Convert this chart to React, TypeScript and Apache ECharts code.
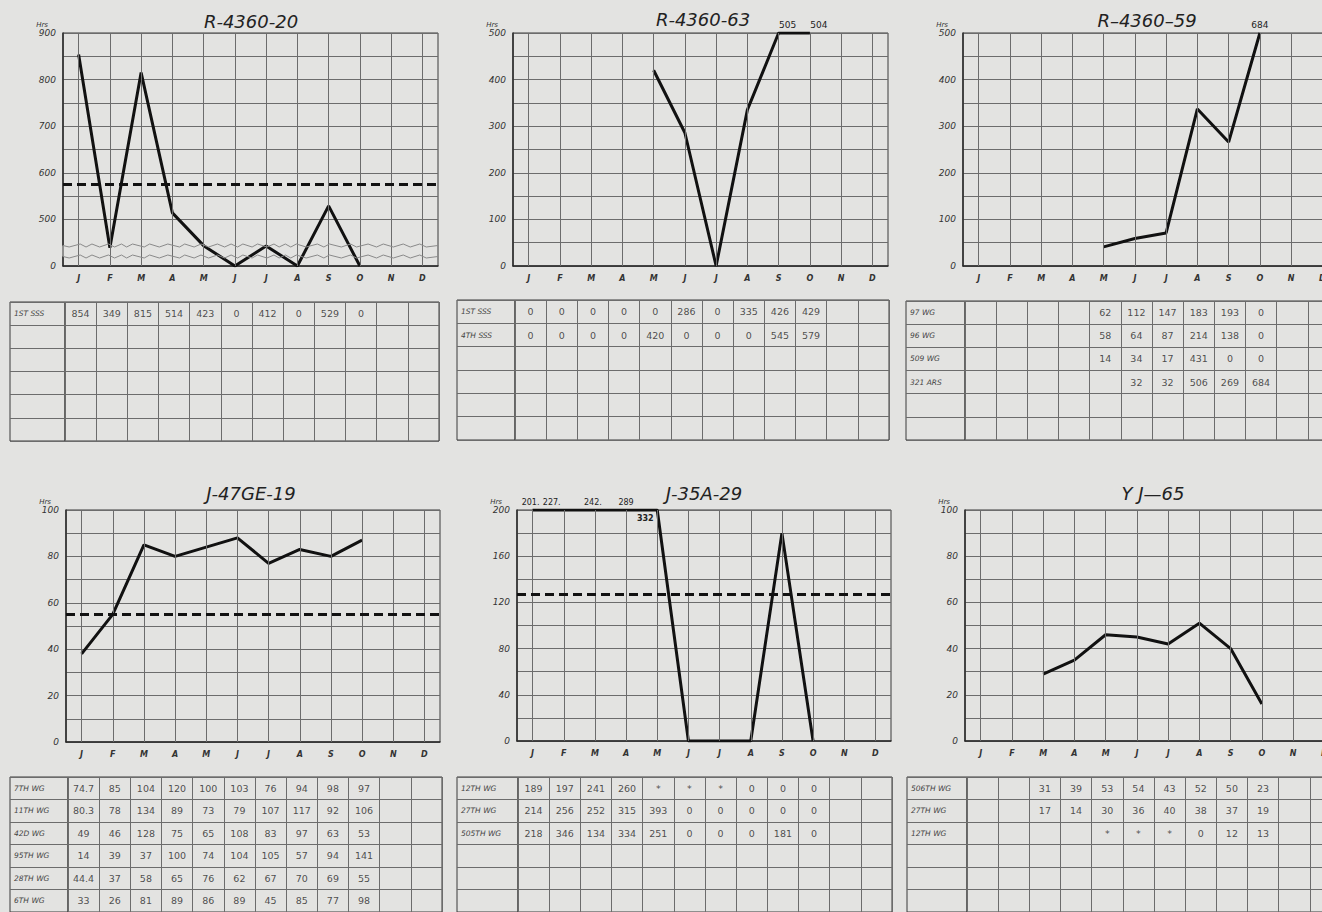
import React, { useEffect, useRef } from 'react';
import * as echarts from 'echarts';

const BG = '#e3e3e1';
const INK = '#111111';
const GRIDC = '#6c6c6c';
const FONT = '"DejaVu Sans", sans-serif';

const MONTHS = ['J', 'F', 'M', 'A', 'M', 'J', 'J', 'A', 'S', 'O', 'N', 'D'];
const TABLE_ROWS = 6;

// ---- chart series (hours per month) ----
const R4360_20 = [854, 349, 815, 514, 423, 0, 412, 0, 529, 0, null, null];
const R4360_20_AVG = 575;
const R4360_63 = [null, null, null, null, 420, 286, 0, 335, 505, 504, null, null];
const R4360_59 = [null, null, null, null, 41, 59, 71, 337, 266, 684, null, null];
const J47GE_19 = [38, 55, 85, 80, 84, 88, 77, 83, 80, 87, null, null];
const J47GE_19_AVG = 55;
const J35A_29 = [201, 227, 242, 289, 332, 0, 0, 0, 180, 0, null, null];
const J35A_29_AVG = 127;
const J35A_29_NOTES = ['201.', '227.', '242.', '289', '332'];
const YJ_65 = [null, null, 29, 35, 46, 45, 42, 51, 40, 16, null, null];

// ---- tables ----
const T1_LABELS = ['1ST SSS'];
const T1_VALUES = [['854', '349', '815', '514', '423', '0', '412', '0', '529', '0']];
const T2_LABELS = ['1ST SSS', '4TH SSS'];
const T2_VALUES = [
  ['0', '0', '0', '0', '0', '286', '0', '335', '426', '429'],
  ['0', '0', '0', '0', '420', '0', '0', '0', '545', '579'],
];
const T3_LABELS = ['97 WG', '96 WG', '509 WG', '321 ARS'];
const T3_VALUES = [
  ['', '', '', '', '62', '112', '147', '183', '193', '0'],
  ['', '', '', '', '58', '64', '87', '214', '138', '0'],
  ['', '', '', '', '14', '34', '17', '431', '0', '0'],
  ['', '', '', '', '', '32', '32', '506', '269', '684'],
];
const T4_LABELS = ['7TH WG', '11TH WG', '42D WG', '95TH WG', '28TH WG', '6TH WG'];
const T4_VALUES = [
  ['74.7', '85', '104', '120', '100', '103', '76', '94', '98', '97'],
  ['80.3', '78', '134', '89', '73', '79', '107', '117', '92', '106'],
  ['49', '46', '128', '75', '65', '108', '83', '97', '63', '53'],
  ['14', '39', '37', '100', '74', '104', '105', '57', '94', '141'],
  ['44.4', '37', '58', '65', '76', '62', '67', '70', '69', '55'],
  ['33', '26', '81', '89', '86', '89', '45', '85', '77', '98'],
];
const T5_LABELS = ['12TH WG', '27TH WG', '505TH WG'];
const T5_VALUES = [
  ['189', '197', '241', '260', '*', '*', '*', '0', '0', '0'],
  ['214', '256', '252', '315', '393', '0', '0', '0', '0', '0'],
  ['218', '346', '134', '334', '251', '0', '0', '0', '181', '0'],
];
const T6_LABELS = ['506TH WG', '27TH WG', '12TH WG'];
const T6_VALUES = [
  ['', '', '31', '39', '53', '54', '43', '52', '50', '23'],
  ['', '', '17', '14', '30', '36', '40', '38', '37', '19'],
  ['', '', '', '', '*', '*', '*', '0', '12', '13'],
];

type Note = { i: number; text: string; pos: 'top' | 'bottom'; dx: number; size: number };

function overNotes(vals: (number | null)[], max: number, dx: number): Note[] {
  const out: Note[] = [];
  vals.forEach((v, i) => {
    if (v != null && v > max) out.push({ i, text: String(v), pos: 'top', dx, size: 9 });
  });
  return out;
}

const PANELS: any[] = [
  {
    title: 'R-4360-20', tx: 251, ty: 21, left: 63, top: 33, width: 375, height: 233,
    yMax: 900, yStep: 50, yLabelStep: 100, values: R4360_20, avg: R4360_20_AVG, notes: [],
    breaks: [{ start: 20, end: 445, gap: '5%' }],
    table: { left: 10, labelW: 55, top: 302, height: 139, width: 374, labels: T1_LABELS, values: T1_VALUES },
  },
  {
    title: 'R-4360-63', tx: 703, ty: 19, left: 513, top: 33, width: 375, height: 233,
    yMax: 500, yStep: 50, yLabelStep: 100, values: R4360_63, notes: overNotes(R4360_63, 500, 9),
    table: { left: 457, labelW: 58, top: 300, height: 140, width: 374, labels: T2_LABELS, values: T2_VALUES },
  },
  {
    title: 'R–4360–59', tx: 1147, ty: 20, left: 963, top: 33, width: 375, height: 233,
    yMax: 500, yStep: 50, yLabelStep: 100, values: R4360_59, notes: overNotes(R4360_59, 500, 0),
    table: { left: 906, labelW: 59, top: 301, height: 139, width: 374, labels: T3_LABELS, values: T3_VALUES },
  },
  {
    title: 'J-47GE-19', tx: 251, ty: 493, left: 66, top: 510, width: 374, height: 232,
    yMax: 100, yStep: 10, yLabelStep: 20, values: J47GE_19, avg: J47GE_19_AVG, notes: [],
    table: { left: 10, labelW: 58, top: 777, height: 136, width: 374, labels: T4_LABELS, values: T4_VALUES },
  },
  {
    title: 'J-35A-29', tx: 704, ty: 493, left: 517, top: 510, width: 374, height: 231,
    yMax: 200, yStep: 20, yLabelStep: 40, values: J35A_29, avg: J35A_29_AVG,
    notes: J35A_29_NOTES.map((t, i) => ({
      i, text: t, pos: i === 4 ? 'bottom' : 'top', dx: [-2, -12, -2, 0, -12][i], size: 8,
    })),
    table: { left: 457, labelW: 61, top: 777, height: 136, width: 374, labels: T5_LABELS, values: T5_VALUES },
  },
  {
    title: 'Y J—65', tx: 1153, ty: 493, left: 965, top: 510, width: 375, height: 231,
    yMax: 100, yStep: 10, yLabelStep: 20, values: YJ_65, notes: [],
    table: { left: 907, labelW: 60, top: 777, height: 136, width: 374, labels: T6_LABELS, values: T6_VALUES },
  },
];

const Y_LABEL_STYLE = { margin: 7, fontSize: 9, fontStyle: 'italic', color: '#333', fontFamily: FONT };

function buildOption() {
  const grid: any[] = [];
  const xAxis: any[] = [];
  const yAxis: any[] = [];
  const series: any[] = [];
  const graphic: any[] = [];
  const rowIds = Array.from({ length: TABLE_ROWS }, (_, i) => 'r' + i);

  PANELS.forEach((p) => {
    // ---------- chart ----------
    grid.push({ left: p.left, top: p.top, width: p.width, height: p.height, show: true, borderColor: '#3a3a3a', borderWidth: 1 });
    let g = grid.length - 1;
    let xi = xAxis.length;
    let yi = yAxis.length;
    xAxis.push({
      type: 'category', gridIndex: g, data: MONTHS, boundaryGap: true,
      axisLine: { show: true, lineStyle: { color: '#2a2a2a', width: 1.5 } },
      axisTick: { show: false }, splitLine: { show: false },
      axisLabel: { interval: 0, margin: 8, fontSize: 8, fontStyle: 'italic', fontWeight: 'bold', color: '#333', fontFamily: FONT },
    });
    const yCfg: any = {
      type: 'value', gridIndex: g, min: 0, max: p.yMax, interval: p.yStep,
      name: 'Hrs', nameLocation: 'end', nameGap: 5,
      nameTextStyle: { fontSize: 7, fontStyle: 'italic', color: '#333', align: 'right', padding: [0, 15, 0, 0], fontFamily: FONT },
      axisLine: { show: true, lineStyle: { color: '#2a2a2a', width: 1.5 } },
      axisTick: { show: false },
      splitLine: { show: true, lineStyle: { color: GRIDC, width: 1 } },
      axisLabel: {
        ...Y_LABEL_STYLE,
        showMinLabel: true, showMaxLabel: true, hideOverlap: false,
        formatter: (v: number) => (Math.round(v) % p.yLabelStep === 0 ? String(Math.round(v)) : ''),
      },
    };
    if (p.breaks) {
      yCfg.breaks = p.breaks;
      yCfg.breakLabelLayout = { moveOverlap: false };
      yCfg.breakArea = {
        show: true, expandOnClick: false,
        itemStyle: { color: 'rgba(0,0,0,0)', borderColor: '#8a8a8a', borderWidth: 1, borderType: 'solid' },
        zigzagAmplitude: 1.5, zigzagMinSpan: 5, zigzagMaxSpan: 12,
      };
    }
    yAxis.push(yCfg);
    if (p.breaks) {
      // plain companion axis that carries the baseline "0" label of the broken axis
      yAxis.push({
        type: 'value', gridIndex: g, min: 0, max: p.yMax, interval: p.yMax, position: 'left', offset: 0,
        axisLine: { show: false }, axisTick: { show: false }, splitLine: { show: false },
        axisLabel: { ...Y_LABEL_STYLE, formatter: (v: number) => (v === 0 ? '0' : '') },
      });
    }

    series.push({
      type: 'line', xAxisIndex: xi, yAxisIndex: yi, data: [], silent: true, z: 1,
      markLine: {
        silent: true, symbol: ['none', 'none'], label: { show: false }, animation: false,
        lineStyle: { color: GRIDC, width: 1, type: 'solid' },
        data: MONTHS.map((_, i) => ({ xAxis: i })),
      },
    });

    const noteMap = new Map<number, Note>();
    (p.notes as Note[]).forEach((n) => noteMap.set(n.i, n));
    series.push({
      type: 'line', xAxisIndex: xi, yAxisIndex: yi, z: 4,
      symbol: 'circle', symbolSize: 0, showSymbol: true, connectNulls: false,
      lineStyle: { color: INK, width: 3 }, itemStyle: { color: INK },
      label: { show: false }, emphasis: { disabled: true },
      data: (p.values as (number | null)[]).map((v, i) => {
        if (v == null) return '-';
        const val = Math.min(v, p.yMax);
        const n = noteMap.get(i);
        if (!n) return val;
        return {
          value: val,
          label: {
            show: true, formatter: n.text, position: n.pos, distance: 4, offset: [n.dx, 0],
            fontSize: n.size, color: '#222', fontFamily: FONT, fontWeight: n.pos === 'bottom' ? 'bold' : 'normal',
          },
        };
      }),
      markLine: p.avg != null ? {
        silent: true, symbol: ['none', 'none'], label: { show: false }, animation: false,
        lineStyle: { color: INK, width: 3, type: [9, 5] },
        data: [{ yAxis: p.avg }],
      } : undefined,
    });

    graphic.push({
      type: 'text', x: p.tx, y: p.ty, silent: true,
      style: { text: p.title, fill: '#222', font: 'italic 18px "DejaVu Sans", sans-serif', textAlign: 'center', textVerticalAlign: 'middle' },
    });

    // ---------- table: label column ----------
    const t = p.table;
    grid.push({ left: t.left, top: t.top, width: t.labelW, height: t.height, show: true, borderColor: '#3a3a3a', borderWidth: 1 });
    g = grid.length - 1;
    xi = xAxis.length;
    yi = yAxis.length;
    xAxis.push({ type: 'value', gridIndex: g, min: 0, max: 1, show: false });
    const labs = rowIds.map((_, i) => (t.labels[i] != null ? t.labels[i] : ' '.repeat(i + 1)));
    yAxis.push({
      type: 'category', gridIndex: g, data: labs, inverse: true, boundaryGap: true,
      axisLine: { show: false }, axisTick: { show: false },
      splitLine: { show: true, interval: 0, lineStyle: { color: GRIDC, width: 1 } },
      axisLabel: { inside: true, interval: 0, margin: 4, fontSize: 7.5, fontStyle: 'italic', color: '#444', fontFamily: FONT },
    });

    // ---------- table: month cells ----------
    grid.push({ left: t.left + t.labelW, top: t.top, width: t.width, height: t.height, show: true, borderColor: '#3a3a3a', borderWidth: 1 });
    g = grid.length - 1;
    xi = xAxis.length;
    yi = yAxis.length;
    xAxis.push({
      type: 'category', gridIndex: g, data: MONTHS, boundaryGap: true,
      axisLine: { show: false }, axisTick: { show: false }, axisLabel: { show: false },
      splitLine: { show: true, interval: 0, lineStyle: { color: GRIDC, width: 1 } },
    });
    yAxis.push({
      type: 'category', gridIndex: g, data: rowIds, inverse: true, boundaryGap: true,
      axisLine: { show: false }, axisTick: { show: false }, axisLabel: { show: false },
      splitLine: { show: true, interval: 0, lineStyle: { color: GRIDC, width: 1 } },
    });
    const cells: any[] = [];
    (t.values as string[][]).forEach((row, r) => {
      row.forEach((txt, c) => {
        if (txt !== '') cells.push({ value: [c, r], label: { formatter: txt } });
      });
    });
    series.push({
      type: 'scatter', xAxisIndex: xi, yAxisIndex: yi, symbolSize: 0, silent: true,
      label: { show: true, position: 'inside', fontSize: 9.5, color: '#262626', fontFamily: FONT },
      data: cells,
    });
  });

  return {
    animation: false,
    backgroundColor: BG,
    grid, xAxis, yAxis, series, graphic,
  };
}

export default function App() {
  const ref = useRef<HTMLDivElement>(null);
  useEffect(() => {
    if (!ref.current) return;
    const chart = echarts.init(ref.current, undefined, { renderer: 'svg' });
    chart.setOption(buildOption() as any);
    return () => chart.dispose();
  }, []);
  return (
    <div style={{ position: 'fixed', left: 0, top: 0, width: 1322, height: 912, overflow: 'hidden', background: BG }}>
      <div ref={ref} style={{ width: 1345, height: 912 }} />
    </div>
  );
}
